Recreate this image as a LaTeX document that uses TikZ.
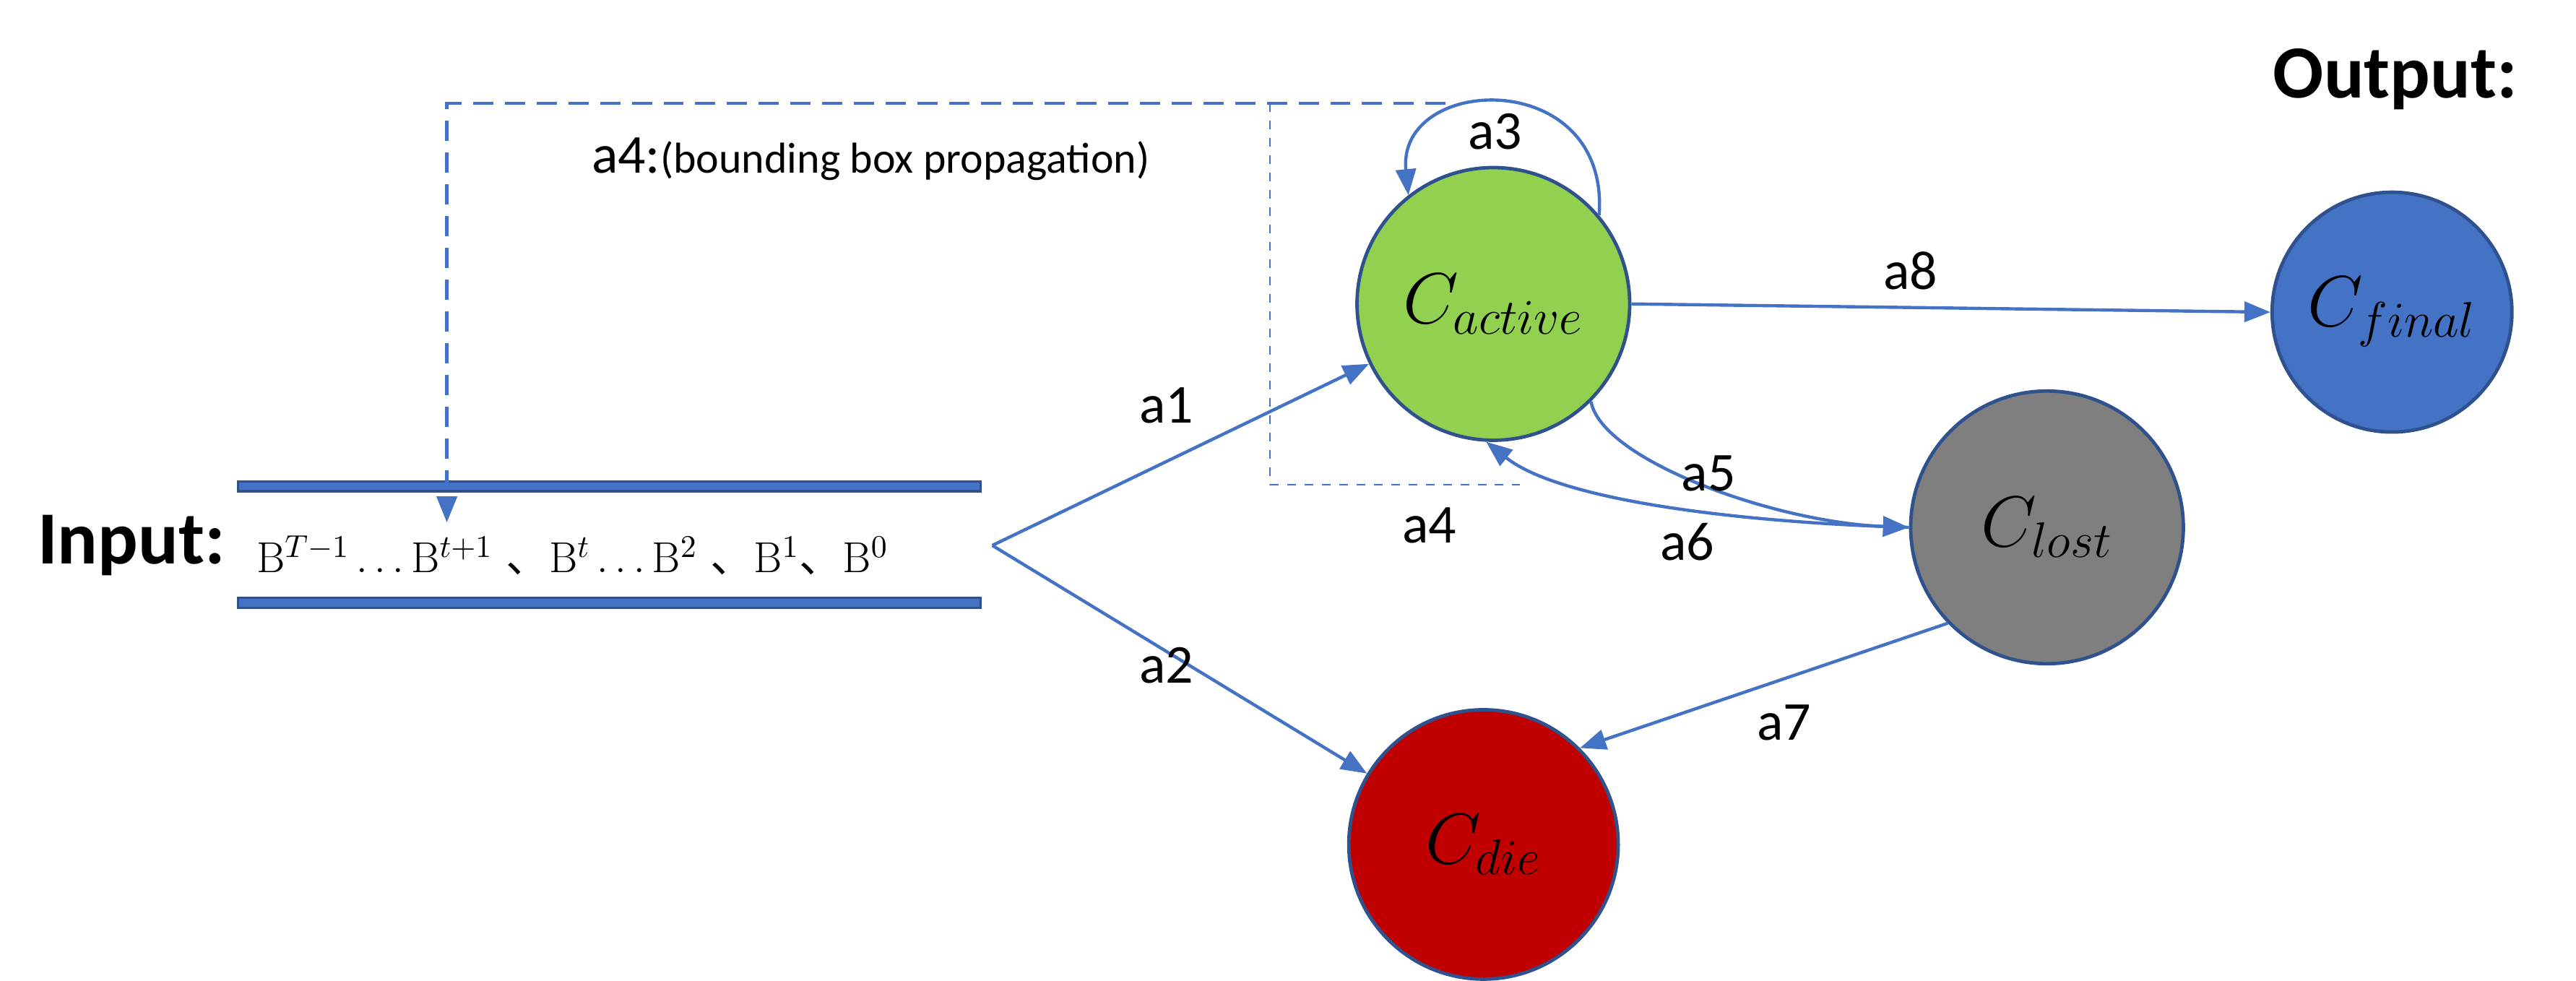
\documentclass[tikz,border=0pt]{standalone}
\usepackage{fontspec}
\setsansfont{Carlito}
\newfontfamily\cjk{Noto Sans CJK SC}
\usetikzlibrary{arrows.meta}
\definecolor{lb}{HTML}{4472C4}
\definecolor{db}{HTML}{2F528F}
\begin{document}
\begin{tikzpicture}[x=0.02cm,y=-0.02cm,
  st/.style={circle,draw=db,line width=1.2pt,inner sep=0pt,font=\fontsize{24}{28}\selectfont},
  arr/.style={draw=lb,line width=1.1pt,-{Triangle[length=9pt,width=7pt]}},
  lbl/.style={font=\sffamily\fontsize{19}{22}\selectfont},
  bar/.style={fill=lb,draw=db,line width=0.8pt}]
\useasboundingbox (0,0) rectangle (1568,597);
\node[st,fill={rgb,255:red,146;green,208;blue,80},minimum size=3.32cm] (act) at (909,185) {$C_{active}$};
\node[st,fill={rgb,255:red,192;green,0;blue,0},minimum size=3.28cm] (die) at (903,514) {$C_{die}$};
\node[st,fill={rgb,255:red,127;green,127;blue,127},minimum size=3.32cm] (lost) at (1246,321) {$C_{lost}$};
\node[st,fill=lb,minimum size=2.92cm] (fin) at (1456,190) {$C_{final}$};
\node[font=\sffamily\bfseries\fontsize{26}{30}\selectfont] (out) at (1458,48) {Output:};
\node[font=\sffamily\bfseries\fontsize{26}{30}\selectfont] (in) at (80,332) {Input:};
\fill[bar] (145,293) rectangle (597,299);
\fill[bar] (145,364) rectangle (597,370);
\node[anchor=west,font=\fontsize{15}{18}\selectfont] (seq) at (150,338)
 {$\mathrm{B}^{T-1}\ldots\mathrm{B}^{t+1}$ {\cjk 、}$\mathrm{B}^{t}\ldots\mathrm{B}^{2}$ {\cjk 、}$\mathrm{B}^{1}${\cjk 、}$\mathrm{B}^{0}$};
\coordinate (br) at (604,332);
\draw[arr] (br) -- (act);
\draw[arr] (br) -- (die);
\draw[arr] (act.40) .. controls (980,40) and (850,45) .. (act.128);
\coordinate (dtop) at (880,63);
\coordinate (tip) at (272,318);
\draw[arr,dashed,dash pattern=on 7pt off 4pt] (dtop) -| (tip);
\coordinate (r1) at (773,63);
\coordinate (r2) at (773,295);
\coordinate (r3) at (925,295);
\draw[lb,dashed,line width=0.5pt] (r1) -- (r2) -- (r3);
\draw[arr] (act.-45) .. controls (975,280) and (1080,318) .. (lost.west);
\draw[arr] (lost.west) .. controls (1060,318) and (950,305) .. (act.-93);
\draw[arr] (lost.-136) -- (die.45);
\draw[arr] (act.east) -- (fin.west);
\node[lbl] (la4t) at (530,97) {a4:\fontsize{15}{18}\selectfont(bounding box propagation)};
\node[lbl] (l1) at (710,247) {a1};
\node[lbl] (l2) at (710,405) {a2};
\node[lbl] (l3) at (910,80) {a3};
\node[lbl] (l8) at (1163,165) {a8};
\node[lbl] (l5) at (1040,288) {a5};
\node[lbl] (l4) at (870,320) {a4};
\node[lbl] (l6) at (1027,330) {a6};
\node[lbl] (l7) at (1086,440) {a7};
\end{tikzpicture}
\end{document}
